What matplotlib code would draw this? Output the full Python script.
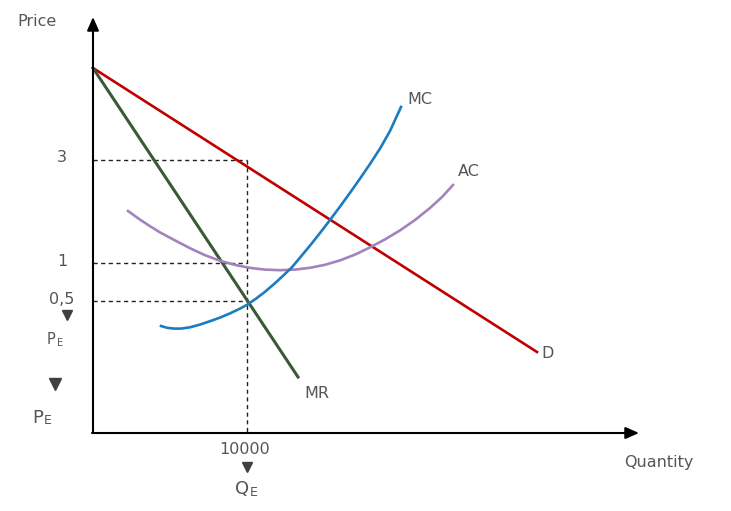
import matplotlib.pyplot as plt

# chart coordinates (pixel-like units, y grows downward)
origin = (93, 433)
x_axis_end = 639
y_axis_end = 17

demand_x = [93, 537]
demand_y = [68, 352]
mr_x = [93, 298]
mr_y = [68, 377]
mc_x = [161, 167, 174, 181, 190, 200, 210, 220, 230, 240, 247, 255, 265, 275, 283,
        292, 300, 310, 320, 330, 340, 350, 360, 370, 380, 390, 401]
mc_y = [326, 327.8, 328.6, 328.6, 327.3, 324.6, 321.2, 317.6, 313.4, 308.6, 304.8, 299.4,
        291.8, 283.2, 275.8, 267.2, 257.6, 245.6, 233, 220, 206.6, 192.8, 178.6,
        164, 148.6, 131, 107]
ac_x = [128, 140, 150, 160, 175, 190, 205, 220, 235, 250, 265, 280, 295, 310, 325,
        340, 355, 370, 385, 400, 415, 430, 442, 453]
ac_y = [211, 219.6, 226.2, 232.4, 240.4, 248.2, 255.2, 260.8, 264.9, 267.9, 269.6,
        270.2, 269.6, 267.8, 264.8, 260.4, 254.6, 247.4, 239.4, 230.4, 220, 208, 197, 185]

price_levels = [160, 263, 301]
price_labels = ["3", "1", "0,5"]
q_level = 247
q_label = "10000"

grey = "#555555"

fig = plt.figure(figsize=(7.31, 5.11), dpi=100)
ax = fig.add_axes([0, 0, 1, 1])
ax.set_xlim(0, 731)
ax.set_ylim(511, 0)
ax.axis("off")

# axes with arrows
arrow = dict(arrowstyle="-|>,head_length=0.5,head_width=0.22", color="black",
             lw=1.5, mutation_scale=16, shrinkA=0, shrinkB=0)
ax.annotate("", xy=(origin[0], y_axis_end), xytext=origin, arrowprops=arrow)
ax.annotate("", xy=(x_axis_end, origin[1]), xytext=(origin[0] - 1, origin[1]),
            arrowprops=arrow)

# dashed guide lines
for py in price_levels:
    ax.plot([origin[0], q_level], [py, py], ls=(0, (3, 2.5)), color="#222222", lw=1)
ax.plot([q_level, q_level], [price_levels[0], origin[1]], ls=(0, (3, 2.5)),
        color="#222222", lw=1)

# curves
ax.plot(demand_x, demand_y, color="#C00000", lw=1.9)
ax.plot(mr_x, mr_y, color="#3A5A36", lw=2.2)
ax.plot(ac_x, ac_y, color="#A383BD", lw=1.9)
ax.plot(mc_x, mc_y, color="#1C7CC0", lw=1.9)

fs = 11.5
ax.text(37, 22, "Price", color=grey, fontsize=fs, ha="center", va="center")
ax.text(659, 463, "Quantity", color=grey, fontsize=fs, ha="center", va="center")
for py, lab in zip(price_levels, price_labels):
    ax.text(62, py - 2, lab, color=grey, fontsize=fs, ha="center", va="center")
ax.text(245, 449, q_label, color=grey, fontsize=fs, ha="center", va="center")

# triangles and subscripted labels
ax.plot([67], [315], marker="v", color="#404040", ms=7)
ax.plot([55], [384], marker="v", color="#404040", ms=8)
ax.plot([247], [467], marker="v", color="#404040", ms=7)
ax.text(51, 340, "P", color=grey, fontsize=10.5, ha="center", va="center")
ax.text(60, 343, "E", color=grey, fontsize=7, ha="center", va="center")
ax.text(38, 418, "P", color=grey, fontsize=13, ha="center", va="center")
ax.text(48, 421, "E", color=grey, fontsize=9, ha="center", va="center")
ax.text(242, 489, "Q", color=grey, fontsize=13, ha="center", va="center")
ax.text(254, 492, "E", color=grey, fontsize=9, ha="center", va="center")

ax.text(420, 99, "MC", color=grey, fontsize=fs, ha="center", va="center")
ax.text(469, 172, "AC", color=grey, fontsize=fs, ha="center", va="center")
ax.text(548, 353, "D", color=grey, fontsize=fs, ha="center", va="center")
ax.text(317, 394, "MR", color=grey, fontsize=fs, ha="center", va="center")

fig.savefig("out.png", dpi=100)
